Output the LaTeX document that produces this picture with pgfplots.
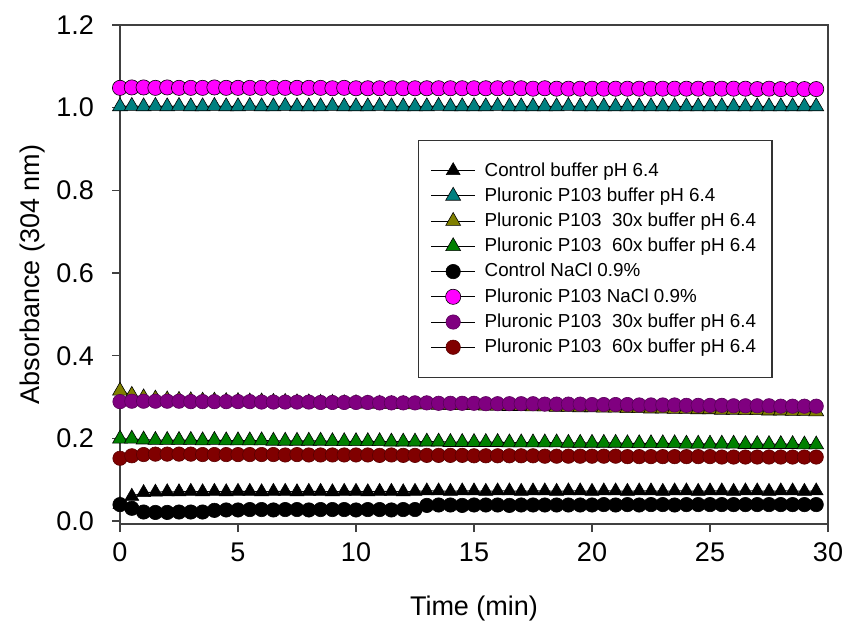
\documentclass[border=0pt]{standalone}
\usepackage{fontspec}
\setmainfont{Liberation Sans}
\usepackage{pgfplots}
\usepackage{pgfplotstable}
\pgfplotsset{compat=1.18}
\definecolor{cteal}{HTML}{008080}
\definecolor{colive}{HTML}{808000}
\definecolor{cgreen}{HTML}{008000}
\definecolor{cmag}{HTML}{FF00FF}
\definecolor{cpurp}{HTML}{800080}
\definecolor{cdred}{HTML}{800000}

% t, control buffer, P103 buffer, 30x buffer, 60x buffer, control NaCl, P103 NaCl, 30x (circ), 60x (circ)
\pgfplotstableread{
t    cb    pb    pthb  psb   cn    pn    pthn  psn
0    0.040 1.003 0.315 0.199 0.040 1.048 0.289 0.152
0.5  0.060 1.004 0.305 0.199 0.031 1.049 0.290 0.158
1    0.069 1.003 0.299 0.197 0.022 1.049 0.290 0.161
1.5  0.070 1.004 0.296 0.196 0.021 1.048 0.290 0.162
2    0.071 1.003 0.294 0.196 0.021 1.049 0.290 0.162
2.5  0.071 1.004 0.293 0.196 0.022 1.048 0.290 0.162
3    0.072 1.003 0.292 0.196 0.022 1.048 0.289 0.162
3.5  0.071 1.003 0.291 0.195 0.022 1.048 0.289 0.161
4    0.072 1.004 0.291 0.196 0.026 1.049 0.289 0.161
4.5  0.071 1.003 0.290 0.195 0.027 1.048 0.289 0.161
5    0.072 1.003 0.290 0.195 0.027 1.048 0.289 0.161
5.5  0.072 1.004 0.289 0.195 0.028 1.048 0.289 0.161
6    0.071 1.003 0.289 0.195 0.028 1.048 0.288 0.161
6.5  0.072 1.003 0.288 0.194 0.027 1.048 0.288 0.161
7    0.072 1.004 0.288 0.194 0.028 1.048 0.288 0.160
7.5  0.071 1.003 0.287 0.194 0.028 1.048 0.288 0.161
8    0.072 1.003 0.287 0.194 0.027 1.048 0.288 0.160
8.5  0.072 1.003 0.286 0.194 0.028 1.048 0.287 0.160
9    0.071 1.004 0.286 0.193 0.028 1.047 0.287 0.160
9.5  0.072 1.003 0.285 0.193 0.028 1.048 0.287 0.160
10   0.072 1.003 0.285 0.193 0.027 1.047 0.287 0.160
10.5 0.071 1.003 0.284 0.193 0.028 1.047 0.287 0.160
11   0.072 1.004 0.284 0.193 0.028 1.047 0.286 0.159
11.5 0.072 1.003 0.283 0.192 0.027 1.047 0.286 0.160
12   0.071 1.003 0.283 0.192 0.028 1.047 0.286 0.159
12.5 0.072 1.003 0.282 0.192 0.028 1.047 0.286 0.159
13   0.073 1.003 0.282 0.192 0.038 1.047 0.286 0.159
13.5 0.073 1.004 0.281 0.192 0.039 1.047 0.285 0.159
14   0.072 1.003 0.281 0.191 0.039 1.047 0.285 0.159
14.5 0.073 1.003 0.280 0.191 0.038 1.047 0.285 0.159
15   0.073 1.003 0.280 0.191 0.039 1.047 0.285 0.158
15.5 0.072 1.003 0.279 0.191 0.039 1.047 0.284 0.158
16   0.073 1.004 0.279 0.191 0.039 1.047 0.284 0.158
16.5 0.073 1.003 0.278 0.190 0.038 1.047 0.284 0.158
17   0.072 1.003 0.278 0.190 0.039 1.047 0.284 0.158
17.5 0.073 1.003 0.277 0.190 0.039 1.046 0.284 0.158
18   0.073 1.003 0.277 0.190 0.039 1.047 0.283 0.157
18.5 0.072 1.003 0.276 0.190 0.039 1.046 0.283 0.157
19   0.073 1.004 0.276 0.189 0.039 1.046 0.283 0.157
19.5 0.073 1.003 0.275 0.189 0.039 1.046 0.283 0.157
20   0.072 1.003 0.275 0.189 0.039 1.046 0.282 0.157
20.5 0.073 1.003 0.274 0.189 0.040 1.046 0.282 0.157
21   0.073 1.003 0.274 0.189 0.039 1.046 0.282 0.157
21.5 0.072 1.003 0.273 0.188 0.040 1.046 0.282 0.156
22   0.073 1.003 0.273 0.188 0.039 1.046 0.281 0.156
22.5 0.073 1.003 0.272 0.188 0.040 1.046 0.281 0.156
23   0.072 1.003 0.272 0.188 0.040 1.046 0.281 0.156
23.5 0.073 1.003 0.271 0.188 0.039 1.046 0.281 0.156
24   0.073 1.003 0.271 0.187 0.040 1.046 0.280 0.156
24.5 0.072 1.003 0.270 0.187 0.040 1.046 0.280 0.156
25   0.073 1.003 0.270 0.187 0.040 1.046 0.280 0.156
25.5 0.073 1.003 0.269 0.187 0.040 1.046 0.280 0.155
26   0.072 1.003 0.269 0.187 0.040 1.046 0.279 0.155
26.5 0.073 1.003 0.268 0.186 0.040 1.046 0.279 0.155
27   0.073 1.003 0.268 0.186 0.040 1.045 0.279 0.155
27.5 0.072 1.003 0.267 0.186 0.040 1.046 0.279 0.155
28   0.073 1.003 0.267 0.186 0.040 1.045 0.278 0.155
28.5 0.073 1.003 0.266 0.186 0.040 1.045 0.278 0.155
29   0.072 1.003 0.266 0.185 0.040 1.045 0.278 0.155
29.5 0.073 1.003 0.265 0.185 0.040 1.045 0.278 0.155
}\absdata

\begin{document}
\begin{tikzpicture}
\useasboundingbox (-60pt,-52pt) rectangle (364.5pt,262pt);
\begin{axis}[
    scale only axis,
    width=354pt, height=249.5pt,
    xmin=0, xmax=30, ymin=-0.007, ymax=1.2,
    xtick={0,5,...,30},
    ytick={0,0.2,...,1.2},
    tick align=outside, tick pos=left,
    major tick length=4pt,
    axis line style={draw=black!75, line width=0.7pt},
    every tick/.style={draw=black!75, line width=0.7pt},
    clip=false,
    font=\fontsize{13.5}{16}\selectfont,
    /pgf/number format/assume math mode=true,
    yticklabel style={xshift=-5.5pt, /pgf/number format/.cd, fixed, fixed zerofill, precision=1},
    xticklabel style={yshift=-2pt, /pgf/number format/fixed},
    xlabel={Time (min)},
    ylabel={Absorbance (304 nm)},
    xlabel style={yshift=-10pt},
    ylabel style={yshift=-1pt},
    legend cell align=left,
    legend style={
        at={(rel axis cs:0.421,0.77)}, anchor=north west,
        font=\fontsize{9.4}{11}\selectfont,
        draw=black!80, line width=0.6pt,
        inner xsep=6pt, inner ysep=9pt,
        row sep=0.3pt,
    },
    legend image code/.code={
        \draw[mark repeat=2, mark phase=2, line width=0.5pt] plot coordinates {(0pt,0pt) (11pt,0pt) (22pt,0pt)};
        \path (24.5pt,0pt);
    },
    every axis plot/.append style={black, line width=0.5pt},
]
\addplot[mark=triangle*, mark size=4pt, mark options={fill=black, draw=black, line width=0.3pt}] table[x=t, y=cb] {\absdata};
\addlegendentry{Control buffer pH 6.4}
\addplot[mark=triangle*, mark size=4.3pt, mark options={fill=cteal, draw=black, line width=0.3pt}] table[x=t, y=pb] {\absdata};
\addlegendentry{Pluronic P103 buffer pH 6.4}
\addplot[mark=triangle*, mark size=4.3pt, mark options={fill=colive, draw=black, line width=0.3pt}] table[x=t, y=pthb] {\absdata};
\addlegendentry{Pluronic P103\ \ 30x buffer pH 6.4}
\addplot[mark=triangle*, mark size=4.3pt, mark options={fill=cgreen, draw=black, line width=0.3pt}] table[x=t, y=psb] {\absdata};
\addlegendentry{Pluronic P103\ \ 60x buffer pH 6.4}
\addplot[mark=*, mark size=3.6pt, mark options={fill=black, draw=black, line width=0.3pt}] table[x=t, y=cn] {\absdata};
\addlegendentry{Control NaCl 0.9\%}
\addplot[mark=*, mark size=3.8pt, mark options={fill=cmag, draw=black, line width=0.3pt}] table[x=t, y=pn] {\absdata};
\addlegendentry{Pluronic P103 NaCl 0.9\%}
\addplot[mark=*, mark size=3.6pt, mark options={fill=cpurp, draw=cpurp!70!black, line width=0.3pt}] table[x=t, y=pthn] {\absdata};
\addlegendentry{Pluronic P103\ \ 30x buffer pH 6.4}
\addplot[mark=*, mark size=3.6pt, mark options={fill=cdred, draw=cdred!70!black, line width=0.3pt}] table[x=t, y=psn] {\absdata};
\addlegendentry{Pluronic P103\ \ 60x buffer pH 6.4}
\end{axis}
\end{tikzpicture}
\end{document}
